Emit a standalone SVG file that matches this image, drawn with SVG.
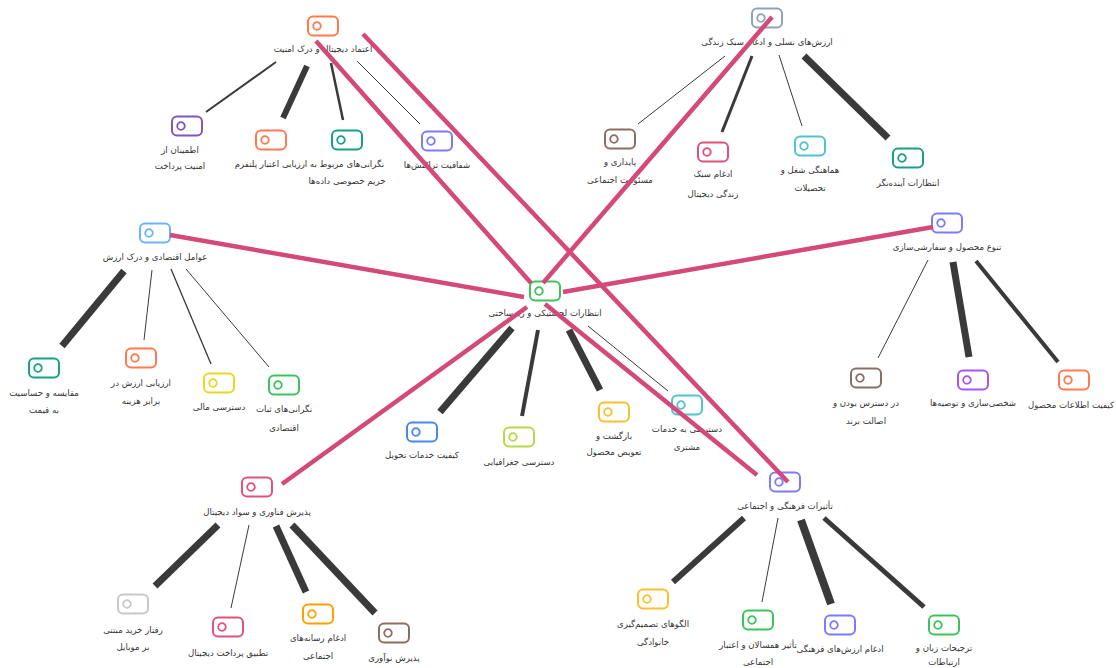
<svg xmlns="http://www.w3.org/2000/svg" width="1116" height="668" viewBox="0 0 1116 668">
<style>
.bg{fill:#ffffff}
.ic{fill:#ffffff;stroke-width:2}
.dot{fill:none;stroke-width:1.8}
text{font-family:"DejaVu Sans","Noto Sans",sans-serif;font-size:8.6px;fill:#333333;text-anchor:middle}
.e{stroke:#3a3a3a;stroke-linecap:butt;fill:none}
.p{stroke:#d4497a;stroke-width:4.5;stroke-linecap:butt;fill:none}
</style>
<defs>
<g id="tag"><rect class="ic" x="-15" y="-9.5" width="30" height="19" rx="5"/><circle class="dot" cx="-6" cy="0" r="3.8"/></g>
</defs>
<rect class="bg" x="0" y="0" width="1116" height="668"/>
<g id="edges-gray">
<line class="e" x1="276" y1="62" x2="206" y2="112" stroke-width="2"/>
<line class="e" x1="307" y1="66" x2="283" y2="118" stroke-width="6"/>
<line class="e" x1="331" y1="63" x2="343" y2="120" stroke-width="2.5"/>
<line class="e" x1="357" y1="61" x2="420" y2="124" stroke-width="1"/>
<line class="e" x1="725" y1="56" x2="638" y2="124" stroke-width="1"/>
<line class="e" x1="752" y1="56" x2="722" y2="132" stroke-width="3"/>
<line class="e" x1="779" y1="55" x2="802" y2="126" stroke-width="1"/>
<line class="e" x1="804" y1="56" x2="888" y2="138" stroke-width="7"/>
<line class="e" x1="124" y1="271" x2="62" y2="346" stroke-width="7"/>
<line class="e" x1="152" y1="270" x2="144" y2="340" stroke-width="1"/>
<line class="e" x1="171" y1="269" x2="211" y2="364" stroke-width="1.3"/>
<line class="e" x1="186" y1="269" x2="269" y2="367" stroke-width="1"/>
<line class="e" x1="928" y1="260" x2="878" y2="358" stroke-width="1"/>
<line class="e" x1="953" y1="262" x2="969" y2="357" stroke-width="7"/>
<line class="e" x1="976" y1="261" x2="1058" y2="362" stroke-width="4"/>
<line class="e" x1="218" y1="525" x2="155" y2="586" stroke-width="7"/>
<line class="e" x1="249" y1="525" x2="231" y2="608" stroke-width="1"/>
<line class="e" x1="276" y1="526" x2="306" y2="592" stroke-width="7"/>
<line class="e" x1="292" y1="525" x2="375" y2="613" stroke-width="7"/>
<line class="e" x1="744" y1="518" x2="673" y2="582" stroke-width="6"/>
<line class="e" x1="778" y1="518" x2="762" y2="602" stroke-width="1"/>
<line class="e" x1="801" y1="520" x2="831" y2="604" stroke-width="8"/>
<line class="e" x1="824" y1="518" x2="924" y2="607" stroke-width="5"/>
<line class="e" x1="512" y1="328" x2="440" y2="412" stroke-width="7"/>
<line class="e" x1="538" y1="330" x2="522" y2="416" stroke-width="4"/>
<line class="e" x1="569" y1="330" x2="600" y2="390" stroke-width="7"/>
<line class="e" x1="588" y1="326" x2="668" y2="391" stroke-width="1"/>
</g>
<g id="n-center"><use href="#tag" x="545" y="291" stroke="#3cc35c"/><text x="545" y="316">انتظارات لجستیکی و زیرساختی</text></g>
<g id="n-h1"><use href="#tag" x="323" y="26" stroke="#ff7a50"/><text x="323" y="52">اعتماد دیجیتال و درک امنیت</text></g>
<g id="n-h1a"><use href="#tag" x="187" y="126" stroke="#7e57c2"/><text x="180" y="153">اطمینان از</text><text x="180" y="169">امنیت پرداخت</text></g>
<g id="n-h1b"><use href="#tag" x="271" y="140" stroke="#ff7a50"/><text x="271" y="167">ارزیابی اعتبار پلتفرم</text></g>
<g id="n-h1c"><use href="#tag" x="347" y="140" stroke="#16a085"/><text x="347" y="167">نگرانی‌های مربوط به</text><text x="347" y="184">حریم خصوصی داده‌ها</text></g>
<g id="n-h1d"><use href="#tag" x="437" y="141" stroke="#7b7bff"/><text x="437" y="168">شفافیت تراکنش‌ها</text></g>
<g id="n-h2"><use href="#tag" x="767" y="18" stroke="#8fa3b5"/><text x="767" y="45">ارزش‌های نسلی و ادغام سبک زندگی</text></g>
<g id="n-h2a"><use href="#tag" x="620" y="139" stroke="#8d6e63"/><text x="620" y="165">پایداری و</text><text x="620" y="183">مسئولیت اجتماعی</text></g>
<g id="n-h2b"><use href="#tag" x="713" y="152" stroke="#e0517c"/><text x="713" y="177">ادغام سبک</text><text x="713" y="197">زندگی دیجیتال</text></g>
<g id="n-h2c"><use href="#tag" x="810" y="146" stroke="#4fc3cf"/><text x="810" y="173">هماهنگی شغل و</text><text x="810" y="191">تحصیلات</text></g>
<g id="n-h2d"><use href="#tag" x="908" y="158" stroke="#16a085"/><text x="908" y="186">انتظارات آینده‌نگر</text></g>
<g id="n-h3"><use href="#tag" x="155" y="233" stroke="#6cb4ff"/><text x="155" y="260">عوامل اقتصادی و درک ارزش</text></g>
<g id="n-h3a"><use href="#tag" x="44" y="368" stroke="#16a085"/><text x="44" y="396">مقایسه و حساسیت</text><text x="44" y="413">به قیمت</text></g>
<g id="n-h3b"><use href="#tag" x="141" y="358" stroke="#ff7a50"/><text x="141" y="386">ارزیابی ارزش در</text><text x="141" y="404">برابر هزینه</text></g>
<g id="n-h3c"><use href="#tag" x="219" y="383" stroke="#e8d820"/><text x="219" y="410">دسترسی مالی</text></g>
<g id="n-h3d"><use href="#tag" x="284" y="385" stroke="#3cc35c"/><text x="284" y="412">نگرانی‌های ثبات</text><text x="284" y="431">اقتصادی</text></g>
<g id="n-h4"><use href="#tag" x="947" y="223" stroke="#7b7bff"/><text x="947" y="250">تنوع محصول و سفارشی‌سازی</text></g>
<g id="n-h4a"><use href="#tag" x="866" y="378" stroke="#8d6e63"/><text x="866" y="406">در دسترس بودن و</text><text x="866" y="424">اصالت برند</text></g>
<g id="n-h4b"><use href="#tag" x="973" y="380" stroke="#a855f7"/><text x="973" y="406">شخصی‌سازی و توصیه‌ها</text></g>
<g id="n-h4c"><use href="#tag" x="1074" y="380" stroke="#ff7a50"/><text x="1071" y="408">کیفیت اطلاعات محصول</text></g>
<g id="n-h5"><use href="#tag" x="257" y="487" stroke="#e0517c"/><text x="257" y="515">پذیرش فناوری و سواد دیجیتال</text></g>
<g id="n-h5a"><use href="#tag" x="133" y="604" stroke="#c8c8c8"/><text x="133" y="633">رفتار خرید مبتنی</text><text x="133" y="650">بر موبایل</text></g>
<g id="n-h5b"><use href="#tag" x="228" y="627" stroke="#e0517c"/><text x="228" y="656">تطبیق پرداخت دیجیتال</text></g>
<g id="n-h5c"><use href="#tag" x="318" y="614" stroke="#ffa000"/><text x="318" y="641">ادغام رسانه‌های</text><text x="318" y="659">اجتماعی</text></g>
<g id="n-h5d"><use href="#tag" x="394" y="633" stroke="#8d6e63"/><text x="394" y="661">پذیرش نوآوری</text></g>
<g id="n-h6"><use href="#tag" x="785" y="482" stroke="#7b7bff"/><text x="785" y="509">تأثیرات فرهنگی و اجتماعی</text></g>
<g id="n-h6a"><use href="#tag" x="653" y="599" stroke="#fbc02d"/><text x="653" y="627">الگوهای تصمیم‌گیری</text><text x="653" y="645">خانوادگی</text></g>
<g id="n-h6b"><use href="#tag" x="758" y="620" stroke="#3cc35c"/><text x="758" y="648">تأثیر همسالان و اعتبار</text><text x="758" y="665">اجتماعی</text></g>
<g id="n-h6c"><use href="#tag" x="840" y="625" stroke="#7b7bff"/><text x="840" y="652">ادغام ارزش‌های فرهنگی</text></g>
<g id="n-h6d"><use href="#tag" x="944" y="625" stroke="#3cc35c"/><text x="944" y="651">ترجیحات زبان و</text><text x="944" y="665">ارتباطات</text></g>
<g id="n-c1"><use href="#tag" x="422" y="432" stroke="#4a86f0"/><text x="422" y="458">کیفیت خدمات تحویل</text></g>
<g id="n-c2"><use href="#tag" x="519" y="437" stroke="#b8d84a"/><text x="519" y="465">دسترسی جغرافیایی</text></g>
<g id="n-c3"><use href="#tag" x="614" y="412" stroke="#f8c030"/><text x="614" y="439">بازگشت و</text><text x="614" y="455">تعویض محصول</text></g>
<g id="n-c4"><use href="#tag" x="687" y="405" stroke="#4fc3cf"/><text x="687" y="432">دسترسی به خدمات</text><text x="687" y="450">مشتری</text></g>
<g id="edges-hub">
<line class="p" x1="170" y1="235" x2="524" y2="297"/>
<line class="p" x1="933" y1="227" x2="563" y2="292"/>
<line class="p" x1="316" y1="41" x2="531" y2="283"/>
<line class="p" x1="772" y1="17" x2="543" y2="283"/>
<line class="p" x1="363" y1="34" x2="788" y2="482"/>
<line class="p" x1="545" y1="304" x2="757" y2="475"/>
<line class="p" x1="527" y1="307" x2="282" y2="484"/>
</g>
</svg>
